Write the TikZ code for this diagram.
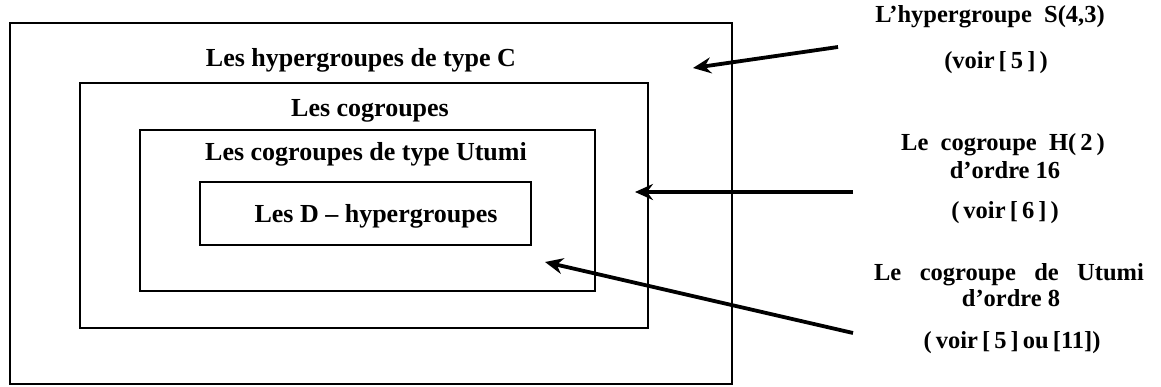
\documentclass[tikz,border=0pt]{standalone}
\usepackage{fontspec}
\setmainfont{Liberation Serif}
\usetikzlibrary{arrows.meta}
\begin{document}
\begin{tikzpicture}[x=1pt,y=-1pt,
  box/.style={draw, line width=2.4pt, inner sep=0pt, outer sep=0pt},
  lab/.style={font=\fontsize{26}{30}\selectfont\bfseries, inner sep=1pt},
  rlab/.style={font=\fontsize{24.5}{28}\selectfont\bfseries, inner sep=1pt},
  arr/.style={line width=3.8pt, -{Stealth[length=18pt,width=16pt,inset=6pt]}}]
\useasboundingbox (0,0) rectangle (1161,387);
% boxes
\node[box, minimum width=722pt, minimum height=361pt] (outer) at (371,203.5) {};
\node[box, minimum width=568pt, minimum height=245pt] (cog) at (364,205.5) {};
\node[box, minimum width=455pt, minimum height=161pt] (utu) at (367.5,210.5) {};
\node[box, minimum width=331pt, minimum height=63pt] (dh) at (365.5,213.5) {};
% inner labels
\node[lab] (t1) at (361,60) {Les hypergroupes de type C};
\node[lab] (t2) at (370,111) {Les cogroupes};
\node[lab] (t3) at (366,154) {Les cogroupes de type Utumi};
\node[lab] (t4) at (376,216) {Les D -- hypergroupes};
% right labels
\node[rlab] (r1) at (990,17) {L'hypergroupe\ \ S(4,3)};
\node[rlab] (r1b) at (996,63) {(voir\,[\,5\,]\,)};
\node[rlab] (r2) at (1003,145) {Le\ \ cogroupe\ \ H(\,2\,)};
\node[rlab] (r2b) at (1005,170) {d'ordre 16};
\node[rlab] (r2c) at (1005,213) {(\,voir\,[\,6\,]\,)};
\node[rlab] (r3) at (1009,275) {Le\ \ \ cogroupe\ \ \ de\ \ \ Utumi};
\node[rlab] (r3b) at (1011,298) {d'ordre 8};
\node[rlab] (r3c) at (1012,343) {(\,voir\,[\,5\,]\,ou\,[11])};
% arrows
\coordinate (a1s) at (838,47);
\coordinate (a1e) at (693,68);
\coordinate (a2s) at (853,192);
\coordinate (a2e) at (635,192);
\coordinate (a3s) at (853,333);
\coordinate (a3e) at (545,262);
\draw[arr] (a1s) -- (a1e);
\draw[arr] (a2s) -- (a2e);
\draw[arr] (a3s) -- (a3e);
\end{tikzpicture}
\end{document}
